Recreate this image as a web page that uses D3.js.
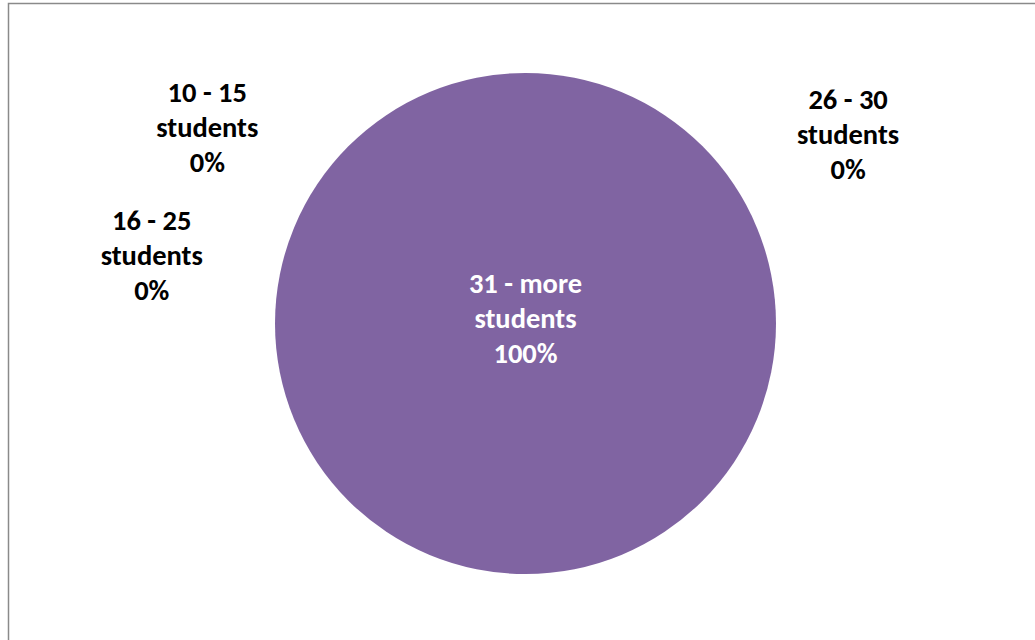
<!DOCTYPE html>
<html>
<head>
<meta charset="utf-8">
<script src="https://cdn.jsdelivr.net/npm/d3@7"></script>
<style>
  html, body { margin: 0; padding: 0; background: #fff; }
  svg { display: block; }
  text { font-family: Carlito, Calibri, "Open Sans", sans-serif; font-weight: bold; }
</style>
</head>
<body>
<svg id="chart" width="1035" height="640"></svg>
<script>
// Class size shares
const categories = ["10 - 15 students", "16 - 25 students", "26 - 30 students", "31 - more students"];
const values = [0, 0, 0, 100];
const sliceColors = ["#4F81BD", "#C0504D", "#9BBB59", "#8064A2"];

// Where the outside labels for empty slices sit (angle in degrees from 12 o'clock, distance from centre)
const labelAngles = [-58.3, -79.6, 59.6, 0];
const labelDistances = [374, 380, 374, 0];

const width = 1035, height = 640;
const cx = 525.5, cy = 323.5, radius = 250.5;

const svg = d3.select("#chart");

// chart area frame
svg.append("rect")
  .attr("x", 8.5).attr("y", 3.5)
  .attr("width", width + 20).attr("height", height + 20)
  .attr("fill", "#fff")
  .attr("stroke", "#8a8a8a")
  .attr("stroke-width", 1.5);

const data = categories.map((c, i) => ({ name: c, value: values[i], i }));
const total = d3.sum(values);

const color = d3.scaleOrdinal().domain(categories).range(sliceColors);

const pie = d3.pie().sort(null).value(d => d.value);
const arcs = pie(data);
const arc = d3.arc().innerRadius(0).outerRadius(radius);

const g = svg.append("g").attr("transform", `translate(${cx},${cy})`);

g.selectAll("path.slice")
  .data(arcs.filter(a => a.data.value > 0))
  .join("path")
  .attr("class", "slice")
  .attr("d", arc)
  .attr("fill", d => color(d.data.name));

const fmt = d3.format(".0%");
const lineH = 35;

const labels = g.selectAll("text.lbl")
  .data(arcs)
  .join("text")
  .attr("class", "lbl")
  .attr("text-anchor", "middle")
  .attr("font-size", 28.5)
  .attr("fill", d => d.data.value / total >= 0.5 ? "#ffffff" : "#000000")
  .attr("transform", d => {
    const i = d.data.i;
    if (d.data.value / total >= 0.999) return "translate(0,-5)";
    const a = labelAngles[i] * Math.PI / 180;
    const r = labelDistances[i];
    return `translate(${r * Math.sin(a)},${-r * Math.cos(a)})`;
  });

labels.each(function(d) {
  const parts = d.data.name.match(/^(.*) (students)$/);
  const lines = [parts[1], parts[2], fmt(d.data.value / total)];
  const t = d3.select(this);
  lines.forEach((ln, k) => {
    t.append("tspan")
      .attr("x", 0)
      .attr("y", (k - 1) * lineH)
      .attr("dy", "0.35em")
      .text(ln);
  });
});
</script>
</body>
</html>
